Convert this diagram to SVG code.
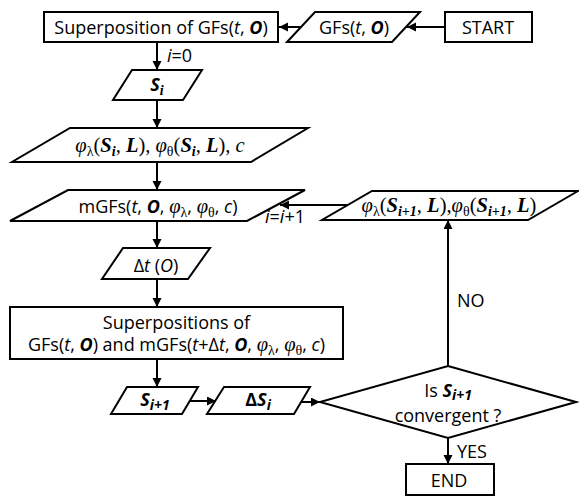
<svg xmlns="http://www.w3.org/2000/svg" width="579" height="496" viewBox="0 0 579 496">
<defs>
<style>
.shape{fill:#fff;stroke:#000;stroke-width:2}
.conn{stroke:#000;stroke-width:2;fill:none;marker-end:url(#ah)}
text{font-family:"Open Sans","Noto Sans",sans-serif;font-size:18px;fill:#000;text-anchor:middle}
.l{text-anchor:start}
.it{font-style:italic}
.bi{font-style:italic;font-weight:bold}
.m{font-family:"Liberation Serif","DejaVu Serif",serif;font-style:italic;font-size:20.5px}
.mu{font-family:"Liberation Serif","DejaVu Serif",serif;font-style:normal}
.sub{font-size:14px}
</style>
<marker id="ah" markerWidth="10" markerHeight="10" refX="9" refY="4.5" orient="auto" markerUnits="userSpaceOnUse">
<path d="M0,0 L9,4.5 L0,9 z" fill="#000"/>
</marker>
</defs>

<g id="superposition">
<rect class="shape" x="44" y="12" width="234" height="30"/>
<text x="161" y="34">Superposition of GFs(<tspan class="it">t</tspan>, <tspan class="bi">O</tspan>)</text>
</g>

<g id="gfs">
<polygon class="shape" points="315,12 420,12 392,42 287,42"/>
<text x="354" y="34">GFs(<tspan class="it">t</tspan>, <tspan class="bi">O</tspan>)</text>
</g>

<g id="start">
<rect class="shape" x="445" y="12" width="87" height="30"/>
<text x="488" y="34">START</text>
</g>

<g id="si">
<polygon class="shape" points="132,70 202,70 183,100 113,100"/>
<text x="157" y="91" font-size="19"><tspan class="bi">S</tspan><tspan class="m sub" font-weight="bold" dy="4">i</tspan></text>
</g>

<g id="phi">
<polygon class="shape" points="70,128 308,128 251,162 12,162"/>
<text x="160" y="152" class="m">φ<tspan class="mu sub" dy="4">λ</tspan><tspan class="mu" dy="-4">(</tspan><tspan font-weight="bold">S</tspan><tspan class="sub" font-weight="bold" dy="4">i</tspan><tspan dy="-4">, </tspan><tspan font-weight="bold">L</tspan><tspan class="mu">), </tspan>φ<tspan class="mu sub" dy="4">θ</tspan><tspan class="mu" dy="-4">(</tspan><tspan font-weight="bold">S</tspan><tspan class="sub" font-weight="bold" dy="4">i</tspan><tspan dy="-4">, </tspan><tspan font-weight="bold">L</tspan><tspan class="mu">), </tspan>c</text>
</g>

<g id="mgfs">
<polygon class="shape" points="68,190 305,190 247,221 10,221"/>
<text x="158" y="213">mGFs(<tspan class="it">t</tspan>, <tspan class="bi">O</tspan>, <tspan class="m">φ</tspan><tspan class="mu sub" dy="4">λ</tspan><tspan dy="-4">, </tspan><tspan class="m">φ</tspan><tspan class="mu sub" dy="4">θ</tspan><tspan dy="-4">, </tspan><tspan class="it">c</tspan>)</text>
</g>

<g id="dt">
<polygon class="shape" points="123,248 210,248 188,279 102,279"/>
<text x="156" y="272">Δ<tspan class="it">t</tspan> (<tspan class="it">O</tspan>)</text>
</g>

<g id="superpositions">
<rect class="shape" x="10" y="307" width="333" height="52"/>
<text x="176.5" y="329">Superpositions of</text>
<text x="176.5" y="351">GFs(<tspan class="it">t</tspan>, <tspan class="bi">O</tspan>) and mGFs(<tspan class="it">t</tspan>+Δ<tspan class="it">t</tspan>, <tspan class="bi">O</tspan>, <tspan class="m">φ</tspan><tspan class="mu sub" dy="4">λ</tspan><tspan dy="-4">, </tspan><tspan class="m">φ</tspan><tspan class="mu sub" dy="4">θ</tspan><tspan dy="-4">, </tspan><tspan class="it">c</tspan>)</text>
</g>

<g id="si1">
<polygon class="shape" points="127,387 198,387 182,414 111,414"/>
<text x="155" y="406" font-size="19"><tspan class="bi">S</tspan><tspan class="bi sub" dy="4">i+1</tspan></text>
</g>

<g id="dsi">
<polygon class="shape" points="224,387 310,387 294,414 207,414"/>
<text x="258" y="406" font-size="19"><tspan font-weight="bold">Δ</tspan><tspan class="bi">S</tspan><tspan class="bi sub" dy="4">i</tspan></text>
</g>

<g id="decision">
<polygon class="shape" points="448,366 576,402 448,438 320,402"/>
<text x="448" y="397">Is <tspan class="bi">S</tspan><tspan class="bi sub" dy="3">i+1</tspan></text>
<text x="448" y="422">convergent ?</text>
</g>

<g id="end">
<rect class="shape" x="406" y="464" width="88" height="31"/>
<text x="449" y="487">END</text>
</g>

<g id="phi1">
<polygon class="shape" points="372,191 578,191 528,220 322,220"/>
<text x="449" y="212" class="m">φ<tspan class="mu sub" dy="4">λ</tspan><tspan class="mu" dy="-4">(</tspan><tspan font-weight="bold">S</tspan><tspan class="sub" font-weight="bold" dy="4">i+1</tspan><tspan dy="-4">, </tspan><tspan font-weight="bold">L</tspan><tspan class="mu">),</tspan>φ<tspan class="mu sub" dy="4">θ</tspan><tspan class="mu" dy="-4">(</tspan><tspan font-weight="bold">S</tspan><tspan class="sub" font-weight="bold" dy="4">i+1</tspan><tspan dy="-4">, </tspan><tspan font-weight="bold">L</tspan><tspan class="mu">)</tspan></text>
</g>

<g id="connectors">
<line class="conn" x1="445" y1="27" x2="407" y2="27"/>
<line class="conn" x1="301" y1="27" x2="279" y2="27"/>
<line class="conn" x1="157" y1="42" x2="157" y2="70"/>
<line class="conn" x1="157" y1="100" x2="157" y2="128"/>
<line class="conn" x1="157" y1="162" x2="157" y2="190"/>
<line class="conn" x1="157" y1="221" x2="157" y2="248"/>
<line class="conn" x1="157" y1="279" x2="157" y2="307"/>
<line class="conn" x1="157" y1="359" x2="157" y2="387"/>
<line class="conn" x1="190" y1="401" x2="216" y2="401"/>
<line class="conn" x1="301" y1="402" x2="320" y2="402"/>
<line class="conn" x1="448" y1="438" x2="448" y2="464"/>
<line class="conn" x1="448" y1="366" x2="448" y2="220"/>
<line class="conn" x1="348" y1="205" x2="280" y2="205"/>
<text class="l it" x="167" y="62">i<tspan font-style="normal">=0</tspan></text>
<text class="l" x="265" y="223"><tspan class="it">i</tspan>=<tspan class="it">i</tspan>+1</text>
<text class="l" x="457" y="307">NO</text>
<text class="l" x="457" y="458">YES</text>
</g>
</svg>
